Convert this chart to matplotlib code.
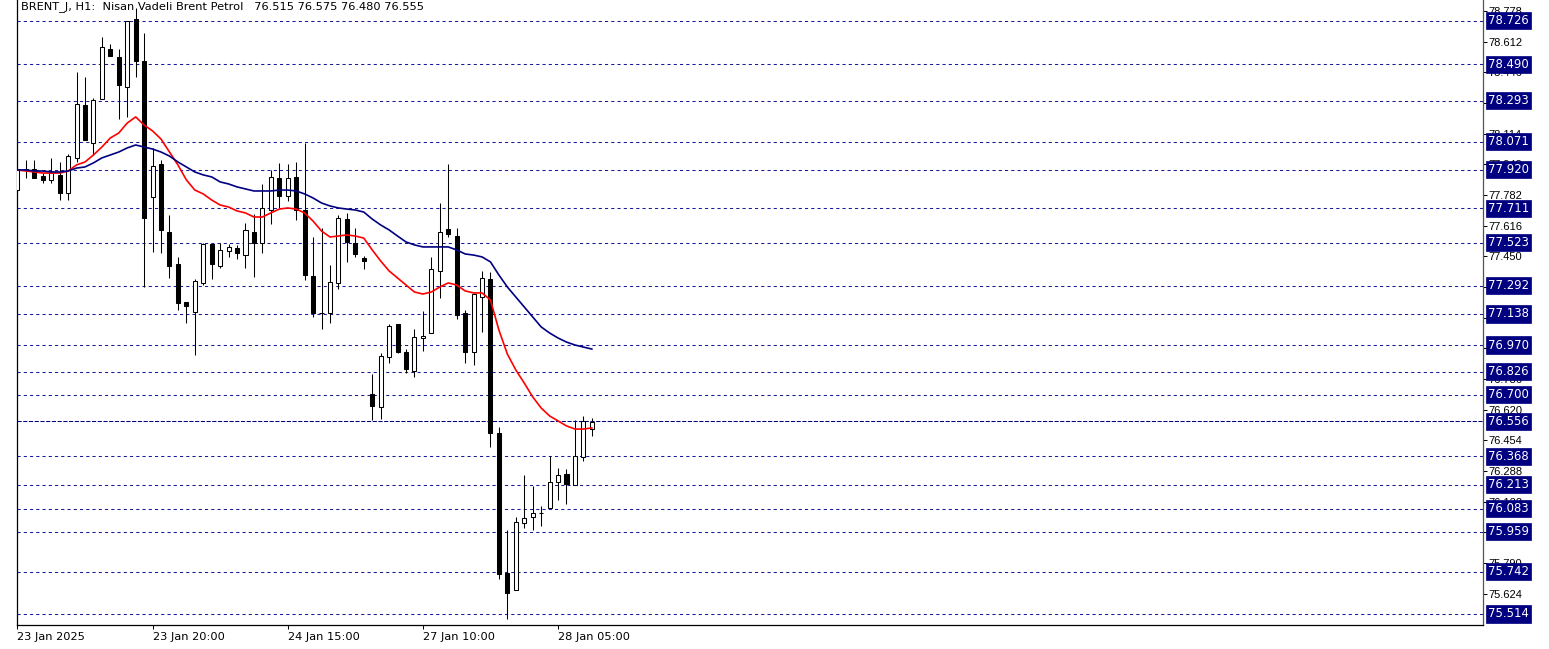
import matplotlib.pyplot as plt
import matplotlib.transforms as mtransforms

# BRENT_J H1 candles
opens = [77.809, 77.923, 77.923, 77.885, 77.863, 77.891, 77.793, 77.983, 78.270, 78.064,
         78.302, 78.573, 78.529, 78.367, 78.735, 78.508, 77.771, 77.950, 77.582, 77.409,
         77.203, 77.149, 77.306, 77.517, 77.398, 77.479, 77.495, 77.457, 77.582, 77.522,
         77.701, 77.874, 77.777, 77.880, 77.701, 77.344, 77.143, 77.143, 77.306, 77.652,
         77.522, 77.441, 76.705, 76.635, 76.905, 77.084, 76.932, 76.829, 77.008, 77.035,
         77.371, 77.598, 77.560, 77.143, 76.932, 77.230, 77.327, 76.494, 75.736, 75.644,
         76.007, 76.039, 76.061, 76.088, 76.228, 76.272, 76.212, 76.364, 76.515]
highs = [77.945, 77.972, 77.972, 77.901, 77.983, 77.961, 78.004, 78.448, 78.421, 78.307,
         78.638, 78.600, 78.573, 78.724, 78.795, 78.659, 78.037, 77.972, 77.674, 77.447,
         77.203, 77.328, 77.522, 77.517, 77.522, 77.517, 77.512, 77.631, 77.679, 77.842,
         77.918, 77.956, 77.950, 77.961, 78.064, 77.555, 77.604, 77.403, 77.674, 77.685,
         77.604, 77.452, 76.813, 76.927, 77.084, 77.084, 76.949, 77.057, 77.154, 77.447,
         77.739, 77.950, 77.604, 77.160, 77.252, 77.371, 77.365, 76.526, 75.969, 76.039,
         76.266, 76.207, 76.099, 76.369, 76.304, 76.299, 76.564, 76.586, 76.575]
lows = [77.799, 77.874, 77.874, 77.847, 77.847, 77.755, 77.755, 77.961, 78.080, 77.999,
        78.302, 78.535, 78.194, 78.205, 78.421, 77.284, 77.474, 77.468, 77.333, 77.160,
        77.089, 76.916, 77.295, 77.328, 77.387, 77.447, 77.436, 77.387, 77.338, 77.468,
        77.625, 77.712, 77.750, 77.647, 77.322, 77.122, 77.057, 77.089, 77.273, 77.420,
        77.447, 77.382, 76.564, 76.570, 76.873, 76.927, 76.819, 76.797, 76.938, 77.035,
        77.225, 77.555, 77.111, 76.873, 76.862, 77.041, 76.418, 75.703, 75.487, 75.644,
        75.979, 75.969, 75.990, 76.088, 76.131, 76.109, 76.212, 76.342, 76.480]
closes = [77.923, 77.920, 77.874, 77.863, 77.901, 77.793, 77.993, 78.275, 78.080, 78.297,
          78.584, 78.535, 78.378, 78.724, 78.508, 77.658, 77.939, 77.593, 77.398, 77.198,
          77.181, 77.317, 77.517, 77.409, 77.485, 77.501, 77.468, 77.593, 77.522, 77.712,
          77.880, 77.777, 77.874, 77.701, 77.349, 77.143, 77.143, 77.311, 77.658, 77.528,
          77.463, 77.425, 76.640, 76.911, 77.073, 76.932, 76.840, 77.013, 77.019, 77.382,
          77.582, 77.571, 77.133, 76.932, 77.246, 77.333, 76.494, 75.730, 75.628, 76.012,
          76.034, 76.061, 76.061, 76.228, 76.266, 76.218, 76.369, 76.559, 76.555]

# moving averages as drawn on the chart
ma_fast = [77.918, 77.912, 77.907, 77.901, 77.901, 77.901, 77.912, 77.945, 77.961, 77.999,
           78.042, 78.091, 78.118, 78.172, 78.205, 78.161, 78.129, 78.085, 78.015, 77.945,
           77.864, 77.809, 77.788, 77.755, 77.728, 77.717, 77.696, 77.685, 77.663, 77.663,
           77.685, 77.706, 77.712, 77.706, 77.685, 77.641, 77.587, 77.555, 77.560, 77.566,
           77.560, 77.549, 77.485, 77.425, 77.371, 77.333, 77.295, 77.257, 77.246, 77.257,
           77.284, 77.306, 77.295, 77.263, 77.252, 77.252, 77.214, 77.051, 76.921, 76.835,
           76.764, 76.689, 76.629, 76.586, 76.559, 76.532, 76.515, 76.515, 76.521]
ma_slow = [77.918, 77.918, 77.912, 77.912, 77.907, 77.907, 77.912, 77.928, 77.934, 77.956,
           77.983, 77.999, 78.015, 78.037, 78.053, 78.042, 78.031, 78.015, 77.993, 77.961,
           77.934, 77.907, 77.891, 77.880, 77.853, 77.842, 77.826, 77.815, 77.804, 77.804,
           77.804, 77.809, 77.809, 77.804, 77.788, 77.766, 77.739, 77.723, 77.712, 77.706,
           77.701, 77.690, 77.652, 77.620, 77.593, 77.560, 77.528, 77.512, 77.501, 77.501,
           77.501, 77.501, 77.485, 77.463, 77.457, 77.447, 77.420, 77.349, 77.284, 77.230,
           77.176, 77.122, 77.068, 77.035, 77.008, 76.986, 76.970, 76.959, 76.948]

levels = [78.726, 78.490, 78.293, 78.071, 77.920, 77.711, 77.523, 77.292, 77.138,
          76.970, 76.826, 76.700, 76.368, 76.213, 76.083, 75.959, 75.742, 75.514]
bid = 76.556

ytick_vals = [78.778, 78.612, 78.446, 78.280, 78.114, 77.948, 77.782, 77.616, 77.450, 77.284,
              77.118, 76.952, 76.786, 76.620, 76.454, 76.288, 76.122, 75.956, 75.790, 75.624]
date_pos = [0, 16, 32, 48, 64]
date_labels = ['23 Jan 2025', '23 Jan 20:00', '24 Jan 15:00', '27 Jan 10:00', '28 Jan 05:00']

W, H = 1549, 649
fig = plt.figure(figsize=(W / 100, H / 100), dpi=100)
ax = fig.add_axes([17 / W, 24 / H, (1483 - 17) / W, 625 / H])

n = len(opens)
xs = list(range(n))
ax.vlines(xs, lows, highs, color='black', lw=0.75, zorder=3)
for i in range(n):
    o, c = opens[i], closes[i]
    fc = 'white' if c > o else 'black'
    ax.bar(i, abs(c - o), bottom=min(o, c), width=0.48, facecolor=fc,
           edgecolor='black', linewidth=0.75, zorder=4)

ax.plot(xs, ma_fast, color='#ff0000', lw=1.2, zorder=5)
ax.plot(xs, ma_slow, color='#000080', lw=1.2, zorder=5)

for lv in levels:
    ax.axhline(lv, color='#1a1a99', lw=0.75, dashes=(3, 3), zorder=1)
ax.axhline(bid, color='#000080', lw=0.75, dashes=(4, 1.5), zorder=1)

ax.set_xlim(-0.05, 173.5)
ax.set_ylim(75.454, 78.838)

ax.yaxis.tick_right()
ax.set_yticks(ytick_vals)
ax.set_yticklabels([f'{v:.3f}' for v in ytick_vals], family='Liberation Sans', fontsize=8)
ax.tick_params(axis='y', length=3, width=0.75, pad=1, colors='black')
ax.set_xticks(date_pos)
ax.set_xticklabels(date_labels, ha='left', family='DejaVu Sans', fontsize=8.2)
ax.tick_params(axis='x', length=3, width=0.75, pad=2)

for s in ['left', 'bottom', 'right']:
    ax.spines[s].set_linewidth(0.9)
ax.spines['right'].set_color('#555555')
ax.spines['top'].set_visible(False)

trans = mtransforms.blended_transform_factory(ax.transAxes, ax.transData)
for lv in levels + [bid]:
    ax.text(1 + 5 / 1466, lv, f'{lv:.3f}', transform=trans, ha='left', va='center',
            color='white', fontsize=8.4, family='DejaVu Sans', zorder=10, clip_on=False,
            bbox=dict(boxstyle='square,pad=0.18', fc='#000080', ec='#000080', lw=0.5))

fig.text(21 / W, 1 - 7 / H,
         'BRENT_J, H1:  Nisan Vadeli Brent Petrol   76.515 76.575 76.480 76.555',
         ha='left', va='center', fontsize=8.2, family='DejaVu Sans')

fig.savefig('out.png', dpi=100)
